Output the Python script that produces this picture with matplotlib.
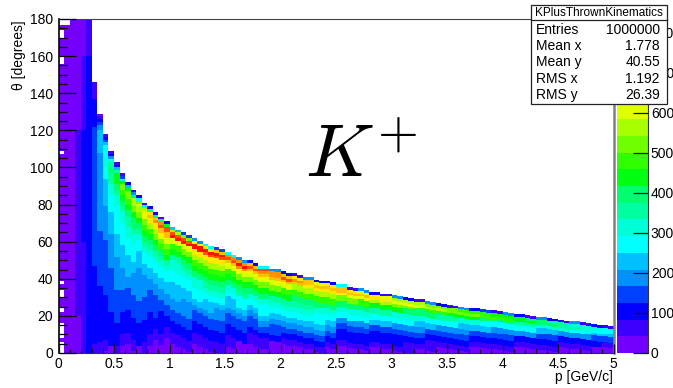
import numpy as np
import matplotlib
matplotlib.use('Agg')
import matplotlib.pyplot as plt
from matplotlib.colors import ListedColormap, BoundaryNorm
from matplotlib.patches import Rectangle

plt.rcParams['font.family'] = ['Liberation Sans', 'DejaVu Sans']
plt.rcParams['mathtext.fontset'] = 'cm'

W, H = 673, 388
BIN = 0.05

band_colors = ['#7400ff', '#3c00ff', '#0400ff', '#0040ff', '#0090ff', '#00c0ff', '#00ffff',
               '#00ffd8', '#00ffa0', '#00ff70', '#00ff10', '#30ff00', '#70ff00', '#a8ff00',
               '#e0ff00', '#ffe800', '#ffc000', '#ff9000', '#ff5000', '#ff1000']
levels = np.linspace(0, 835, 21)
cbar_ticks = [0, 100, 200, 300, 400, 500, 600, 700, 800]

# p < 0.3: six bins wide, rows 20 degrees high, lowest row first
low_p_tops = [176.5, 177, 179.5, 179.5, 179.5, 179.5]
low_p_counts = [[20, 20, 20, 20, 60, 105],
                [20, 20, 20, 60, 60, 105],
                [20, 20, 20, 60, 60, 105],
                [20, 20, 20, 60, 105, 105],
                [20, 20, 20, 60, 105, 105],
                [20, 20, 20, 60, 105, 105],
                [20, 20, 20, 20, 60, 105],
                [20, 20, 20, 20, 60, 105],
                [20, 20, 20, 20, 20, 60]]
first_bin_empty = [172, 170, 158, 156, 107, 37, 32, 30, 22, 14, 12, 10, 8, 4, 2, 0]

# upper edge of each 0.05 GeV bin from p = 0.3
tops = [146, 129, 118, 109, 103, 97, 92, 88, 85, 81, 79, 76, 73.5, 71,
        68, 66.5, 65, 63.5, 62, 60.5, 59, 57.5, 57, 56, 54.5, 53, 51.5, 50, 50, 48.5, 47, 47, 45.5, 45,
        44, 43, 43, 42, 41, 41, 39.5, 39, 39, 38, 37, 37, 35.5, 35, 35, 34, 33, 33, 32, 32,
        31, 30.5, 30, 29.5, 29, 29, 28, 27.5, 27, 26.5, 26, 25.5, 25, 24.5, 24, 24, 23.5, 23, 23, 22.5,
        22, 21.5, 21, 21, 20.5, 20, 19.5, 19.5, 19, 18.5, 18, 17.5, 17, 17, 16.5, 16, 15.5, 15, 15, 14.5]

# counts hanging down from the upper edge, p = 0.30 to 0.95, one list per bin
fine_columns = [
    [60, 60, 60, 60, 60, 105, 105, 105, 105, 105, 145, 145, 145, 145, 145,
     145, 145, 145, 145, 145, 145, 145, 145, 145, 145, 105, 105, 105, 105, 105, 105, 105, 60],
    [20, 60, 105, 145, 190, 230, 230, 230, 230, 190, 190, 190, 190, 190, 190,
     190, 190, 190, 190, 145, 145, 145, 145, 145, 105, 105, 105, 105, 105, 60],
    [60, 105, 145, 230, 270, 270, 315, 315, 270, 270, 230, 230, 230, 230, 230,
     190, 190, 190, 145, 145, 145, 145, 145, 105, 105, 105, 105, 60, 20],
    [60, 105, 190, 315, 355, 395, 355, 355, 315, 315, 270, 270, 270, 230, 230,
     230, 190, 190, 190, 145, 145, 145, 145, 105, 105, 105, 40],
    [60, 105, 230, 355, 440, 440, 395, 355, 315, 315, 270, 270, 270, 270, 270,
     230, 230, 190, 190, 190, 145, 145, 145, 105, 105, 60, 20],
    [60, 145, 315, 440, 520, 480, 440, 395, 355, 315, 315, 270, 270, 270, 270,
     230, 230, 190, 190, 145, 145, 105, 105, 60, 20],
    [105, 230, 440, 520, 520, 480, 440, 395, 355, 355, 315, 315, 270, 270, 270,
     230, 230, 190, 145, 145, 105, 105, 60, 20],
    [60, 190, 395, 565, 565, 520, 440, 395, 395, 355, 315, 315, 270, 270, 270,
     230, 190, 190, 145, 145, 105, 105, 60, 20],
    [105, 270, 520, 605, 565, 520, 440, 395, 355, 315, 270, 270, 230, 230, 230,
     190, 190, 190, 145, 145, 105, 105, 40],
    [60, 315, 565, 645, 605, 520, 480, 440, 395, 355, 315, 270, 270, 230, 230,
     190, 190, 145, 145, 105, 105, 60, 20],
    [105, 355, 645, 690, 645, 565, 480, 440, 395, 355, 315, 270, 270, 230, 230,
     190, 145, 145, 105, 105, 60, 20],
    [105, 395, 690, 730, 645, 565, 520, 440, 395, 355, 315, 270, 270, 230, 230,
     190, 145, 145, 105, 60, 20],
    [60, 395, 730, 770, 690, 605, 520, 480, 395, 355, 315, 270, 270, 230, 230,
     190, 145, 105, 105, 60, 20],
    [105, 440, 770, 770, 690, 605, 520, 480, 440, 355, 315, 270, 270, 230, 230,
     190, 145, 105, 60, 20],
]

# same, p = 1.0 to 4.9, one list shared by two neighbouring bins
coarse_columns = [
    [230, 565, 770, 815, 605, 480, 440, 355, 315, 315, 270, 270, 230, 230, 230, 190, 145, 105, 60, 20],
    [145, 520, 770, 815, 605, 520, 440, 395, 355, 315, 270, 270, 230, 230, 190, 190, 145, 105, 60, 20],
    [190, 605, 815, 815, 645, 565, 480, 440, 395, 315, 315, 270, 270, 230, 190, 145, 105, 60, 20],
    [270, 645, 815, 770, 645, 565, 480, 440, 395, 355, 315, 270, 230, 230, 190, 145, 105, 60, 20],
    [145, 690, 815, 770, 645, 565, 480, 440, 395, 355, 315, 270, 230, 190, 190, 145, 105, 60],
    [270, 730, 770, 690, 605, 500, 440, 380, 315, 270, 230, 230, 190, 145, 145, 105, 60, 20],
    [190, 730, 815, 730, 605, 520, 440, 395, 355, 270, 270, 230, 190, 145, 145, 105, 40],
    [105, 690, 770, 690, 605, 520, 440, 395, 315, 270, 230, 190, 145, 145, 105, 60, 20],
    [270, 770, 730, 690, 605, 520, 440, 395, 315, 270, 270, 230, 190, 145, 105, 60, 20],
    [190, 730, 730, 690, 605, 520, 440, 355, 315, 270, 230, 190, 145, 145, 105, 40],
    [105, 690, 770, 690, 605, 480, 440, 355, 315, 270, 230, 190, 145, 105, 60, 20],
    [60, 645, 730, 690, 565, 480, 395, 355, 315, 270, 230, 190, 145, 105, 60, 20],
    [190, 690, 690, 645, 565, 480, 395, 355, 315, 270, 230, 190, 145, 105, 60, 20],
    [105, 605, 690, 645, 565, 480, 395, 315, 270, 270, 230, 190, 145, 105, 60, 20],
    [105, 645, 690, 645, 565, 480, 395, 315, 270, 230, 190, 145, 105, 60, 20],
    [270, 690, 690, 605, 520, 395, 315, 270, 190, 145, 105, 105, 60, 20, 20],
    [60, 645, 690, 605, 520, 395, 315, 270, 190, 145, 105, 105, 60, 20],
    [190, 605, 690, 605, 480, 395, 315, 270, 190, 145, 105, 105, 60, 20],
    [105, 645, 645, 565, 440, 355, 270, 230, 145, 105, 105, 60, 20],
    [60, 605, 645, 565, 440, 355, 270, 230, 145, 105, 105, 60, 20],
    [190, 565, 605, 520, 440, 315, 270, 190, 145, 105, 105, 60, 20],
    [105, 565, 605, 520, 395, 315, 270, 190, 145, 105, 60, 60, 20],
    [60, 565, 605, 480, 395, 315, 230, 190, 145, 105, 60, 20, 20],
    [190, 520, 565, 480, 395, 270, 230, 145, 105, 60, 60, 20],
    [105, 520, 565, 480, 355, 270, 190, 145, 105, 60, 20],
    [60, 520, 520, 440, 355, 270, 190, 145, 105, 60, 20],
    [190, 480, 520, 440, 315, 230, 190, 145, 105, 60, 20, 20],
    [105, 480, 520, 440, 315, 230, 145, 105, 60, 20],
    [145, 480, 480, 395, 270, 230, 145, 105, 60, 20],
    [60, 440, 480, 395, 270, 190, 145, 105, 60, 20],
    [190, 440, 480, 395, 270, 190, 145, 105, 60, 20],
    [105, 440, 440, 355, 270, 190, 105, 60, 20],
    [60, 395, 440, 355, 270, 190, 105, 60, 20],
    [190, 395, 395, 315, 230, 145, 105, 60, 20],
    [105, 355, 395, 315, 230, 145, 105, 60, 20],
    [60, 355, 355, 315, 190, 105, 60, 20],
    [190, 315, 355, 270, 190, 105, 60, 20],
    [60, 315, 315, 270, 190, 105, 60, 20],
    [105, 315, 270, 230, 145, 105, 40, 20],
    [60, 270, 270, 230, 145, 60, 20],
]

stats_names = ['Entries', 'Mean x', 'Mean y', 'RMS x', 'RMS y']
stats_values = ['1000000', '1.778', '40.55', '1.192', '26.39']


def cell_height(i):
    # first cells under the edge are thin, the ridge is narrow there
    if i < 4:
        return 1.5
    if i < 15:
        return 3.0
    return 6.0


def hang_column(cells, left, top, counts):
    y = top
    for i, c in enumerate(counts):
        h = cell_height(i)
        if i == len(counts) - 1:
            h = y
        h = min(h, y)
        if h <= 0:
            break
        cells.append((left, y - h, h, c))
        y -= h


fig = plt.figure(figsize=(W / 100, H / 100), dpi=100)
left, right, top_px, bottom_px = 58.5, 613.5, 19, 353
ax = fig.add_axes([left / W, 1 - bottom_px / H, (right - left) / W, (bottom_px - top_px) / H])

cmap = ListedColormap(band_colors)
norm = BoundaryNorm(levels, cmap.N)

cells = []
for col in range(6):
    for row, vals in enumerate(low_p_counts):
        bottom = row * 20
        h = min(20, low_p_tops[col] - bottom)
        cells.append((col * BIN, bottom, h, vals[col]))

for i, counts in enumerate(fine_columns):
    hang_column(cells, 0.3 + i * BIN, tops[i], counts)
for i, counts in enumerate(coarse_columns):
    for k in range(2):
        j = len(fine_columns) + 2 * i + k
        hang_column(cells, 0.3 + j * BIN, tops[j], counts)

cells = np.array(cells)
ax.bar(cells[:, 0], cells[:, 2], bottom=cells[:, 1], width=BIN, align='edge',
       color=cmap(norm(cells[:, 3])), linewidth=0, antialiased=False)
ax.bar([0] * len(first_bin_empty), [2] * len(first_bin_empty), bottom=first_bin_empty, width=BIN,
       align='edge', color='white', linewidth=0, antialiased=False)

ax.set_xlim(0, 5)
ax.set_ylim(0, 180)
ax.set_axisbelow(False)
ax.set_xticks(np.arange(0, 5.01, 0.5))
ax.set_xticklabels(['0', '0.5', '1', '1.5', '2', '2.5', '3', '3.5', '4', '4.5', '5'])
ax.set_xticks(np.arange(0, 5.01, 0.1), minor=True)
ax.set_yticks(np.arange(0, 181, 20))
ax.set_yticks(np.arange(0, 181, 5), minor=True)
ax.tick_params(axis='x', which='major', direction='in', length=6.5, width=0.9, labelsize=10, pad=3, color='#111111')
ax.tick_params(axis='x', which='minor', direction='in', length=3.2, width=0.9, color='#111111')
ax.tick_params(axis='y', which='major', direction='in', length=12.2, width=0.9, labelsize=10, pad=4, color='black')
ax.tick_params(axis='y', which='minor', direction='in', length=6, width=0.9, color='black')
ax.spines['left'].set_linewidth(1.2)
ax.spines['top'].set_color('#444444')
ax.spines['bottom'].set_color('#333333')
ax.spines['right'].set_color('#808080')
ax.spines['right'].set_linewidth(1.8)

# colour scale
cax = fig.add_axes([617 / W, 1 - bottom_px / H, 31 / W, (bottom_px - top_px) / H])
cax.pcolormesh([0, 1], levels, np.arange(20).reshape(-1, 1), cmap=cmap, vmin=-0.5, vmax=19.5)
cax.set_xticks([])
cax.set_ylim(0, 835)
cax.yaxis.tick_right()
cax.set_yticks(cbar_ticks)
cax.tick_params(axis='y', direction='in', length=11, width=0.9, labelsize=10, pad=2, color='#111111')
for s in ['left', 'top', 'bottom']:
    cax.spines[s].set_visible(False)
cax.spines['right'].set_color('#333333')

# overlay in pixel coordinates for the labels and the stats box
over = fig.add_axes([0, 0, 1, 1], zorder=5)
over.set_xlim(0, W)
over.set_ylim(H, 0)
over.axis('off')
over.patch.set_alpha(0)

over.text(613, 377, 'p [GeV/c]', ha='right', va='center', fontsize=10)
over.text(19, 20, '\u03b8 [degrees]', rotation=90, ha='center', va='top', fontsize=10)
over.text(305, 177, r'$K^{+}$', fontsize=54, ha='left', va='baseline', color='black')

over.add_patch(Rectangle((531, 5), 136, 99, facecolor='white', edgecolor='#222222', linewidth=0.9))
over.plot([531, 667], [20, 20], color='#222222', lw=0.9)
over.text(599, 12.5, 'KPlusThrownKinematics', ha='center', va='center', fontsize=8.5)
for i in range(len(stats_names)):
    y = 30 + i * 16.2
    over.text(536, y, stats_names[i], ha='left', va='center', fontsize=10)
    over.text(660, y, stats_values[i], ha='right', va='center', fontsize=10)

fig.savefig('out.png', dpi=100)
